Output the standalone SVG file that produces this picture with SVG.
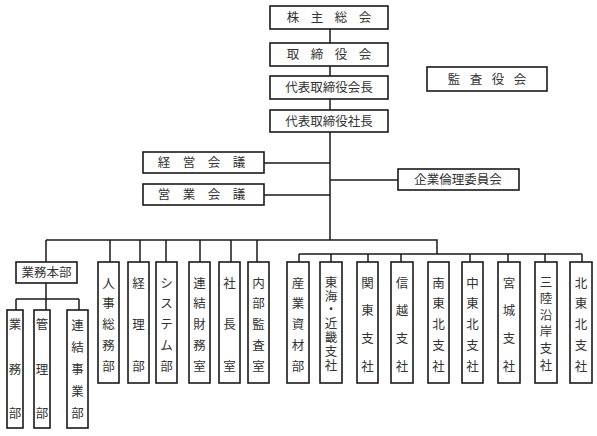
<svg xmlns="http://www.w3.org/2000/svg" width="597" height="436" viewBox="0 0 597 436">
<style>
.b{fill:#fff;stroke:#1a1a1a;stroke-width:1.6}
.l{fill:none;stroke:#1a1a1a;stroke-width:1.5}
text{font-family:"Noto Sans CJK JP","Noto Sans CJK SC",sans-serif;font-size:12.5px;fill:#333;text-anchor:middle}
</style>
<rect width="597" height="436" fill="#fff"/>
<g id="connectors">
<path class="l" d="M330 29V240M264 163H330M264 195H330M330 180H398M46 240H437V254M46 240V310M46 283V299M16 299H79M16 299V310M79 299V310M110 240V262M140 240V262M166 240V262M200 240V262M231 240V262M257 240V262M299 254H582M299 254V262M331 254V262M368 254V262M401 254V262M470 254V262M508 254V262M545 254V262M582 254V262"/>
</g>
<g id="kabunushi"><rect class="b" x="270" y="6" width="118" height="23"/><text x="293 317 341 365" y="22">株主総会</text></g>
<g id="torishimariyakukai"><rect class="b" x="270" y="43" width="118" height="23"/><text x="293 317 341 365" y="59">取締役会</text></g>
<g id="kaicho"><rect class="b" x="270" y="76" width="118" height="23"/><text x="329" y="92">代表取締役会長</text></g>
<g id="shacho"><rect class="b" x="270" y="110" width="118" height="22"/><text x="329" y="126">代表取締役社長</text></g>
<g id="kansayakukai"><rect class="b" x="427" y="67" width="120" height="24"/><text x="454 476 498 520" y="84">監査役会</text></g>
<g id="keiei"><rect class="b" x="143" y="152" width="121" height="21"/><text x="164 189 214 239" y="167">経営会議</text></g>
<g id="eigyo"><rect class="b" x="143" y="184" width="121" height="21"/><text x="164 189 214 239" y="199">営業会議</text></g>
<g id="rinri"><rect class="b" x="398" y="169" width="121" height="21"/><text x="458" y="184">企業倫理委員会</text></g>
<g id="gyomuhonbu"><rect class="b" x="16" y="262" width="61" height="21"/><text x="46.5" y="277">業務本部</text></g>
<g id="gyomubu"><rect class="b" x="7" y="310" width="16" height="118"/><text x="15 15 15" y="329 373.5 418">業務部</text></g>
<g id="kanribu"><rect class="b" x="34" y="310" width="16" height="118"/><text x="42 42 42" y="329 373.5 418">管理部</text></g>
<g id="renketsujigyobu"><rect class="b" x="67" y="310" width="21" height="118"/><text x="77.5 77.5 77.5 77.5 77.5" y="330 352 374 396 418">連結事業部</text></g>
<g id="jinji"><rect class="b" x="98" y="262" width="21" height="121"/><text x="108.5 108.5 108.5 108.5 108.5" y="287.5 308.3 329 349.8 370.5">人事総務部</text></g>
<g id="keiri"><rect class="b" x="128" y="262" width="21" height="121"/><text x="138.5 138.5 138.5" y="287.5 329 370.5">経理部</text></g>
<g id="system"><rect class="b" x="156" y="262" width="21" height="121"/><text x="166.5 166.5 166.5 166.5 166.5" y="287.5 308.3 329 349.8 370.5">システム部</text></g>
<g id="renketsuzaimu"><rect class="b" x="189" y="262" width="21" height="121"/><text x="199.5 199.5 199.5 199.5 199.5" y="287.5 308.3 329 349.8 370.5">連結財務室</text></g>
<g id="shachoshitsu"><rect class="b" x="219" y="262" width="21" height="121"/><text x="229.5 229.5 229.5" y="287.5 329 370.5">社長室</text></g>
<g id="naibukansa"><rect class="b" x="248" y="262" width="21" height="121"/><text x="258.5 258.5 258.5 258.5 258.5" y="287.5 308.3 329 349.8 370.5">内部監査室</text></g>
<g id="sangyoshizai"><rect class="b" x="287" y="262" width="22" height="121"/><text x="298 298 298 298 298" y="287.5 308.3 329 349.8 370.5">産業資材部</text></g>
<g id="tokaikinki"><rect class="b" x="320" y="262" width="22" height="121"/><text x="331 331 331 331 331 331 331" y="286.5 300.5 314.3 328 341.8 355.6 369.5">東海・近畿支社</text></g>
<g id="kanto"><rect class="b" x="357" y="262" width="21" height="121"/><text x="367.5 367.5 367.5 367.5" y="287.5 315.2 342.8 370.5">関東支社</text></g>
<g id="shinetsu"><rect class="b" x="391" y="262" width="22" height="121"/><text x="402 402 402 402" y="287.5 315.2 342.8 370.5">信越支社</text></g>
<g id="minamitohoku"><rect class="b" x="428" y="262" width="21" height="121"/><text x="438.5 438.5 438.5 438.5 438.5" y="287.5 308.3 329 349.8 370.5">南東北支社</text></g>
<g id="nakatohoku"><rect class="b" x="462" y="262" width="21" height="121"/><text x="472.5 472.5 472.5 472.5 472.5" y="287.5 308.3 329 349.8 370.5">中東北支社</text></g>
<g id="miyagi"><rect class="b" x="498" y="262" width="22" height="121"/><text x="509 509 509 509" y="287.5 315.2 342.8 370.5">宮城支社</text></g>
<g id="sanriku"><rect class="b" x="535" y="262" width="22" height="121"/><text x="546 546 546 546 546 546" y="286.5 303.1 319.7 336.3 352.9 369.5">三陸沿岸支社</text></g>
<g id="kitatohoku"><rect class="b" x="570" y="262" width="22" height="121"/><text x="581 581 581 581 581" y="287.5 308.3 329 349.8 370.5">北東北支社</text></g>
</svg>
